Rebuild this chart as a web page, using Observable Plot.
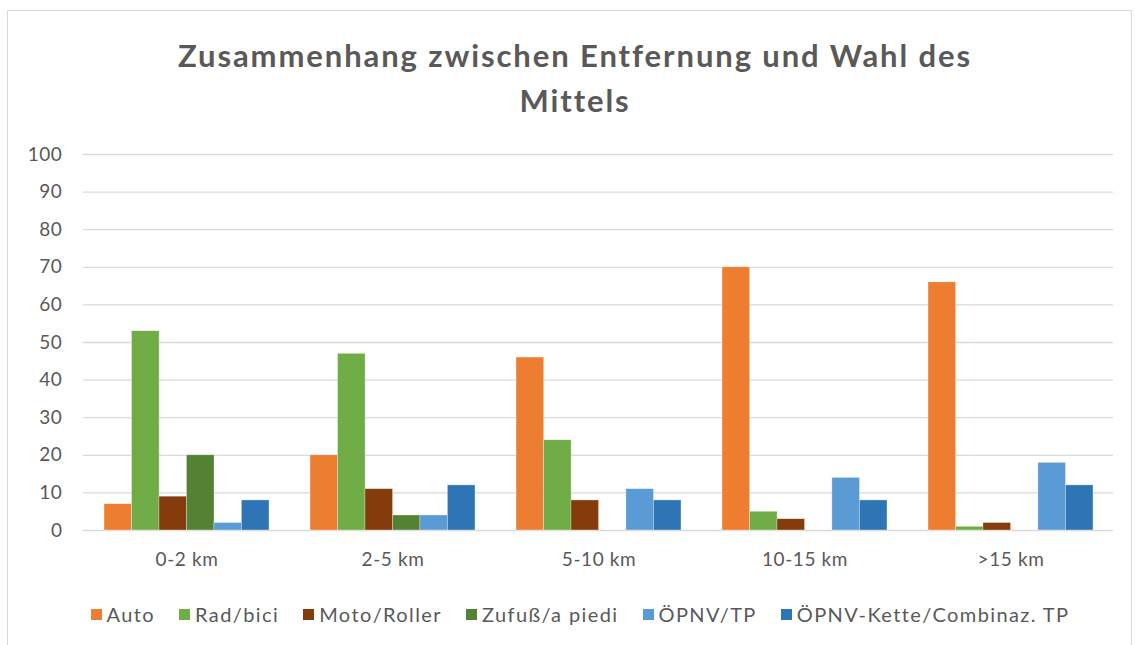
<!DOCTYPE html>
<html>
<head>
<meta charset="utf-8">
<script src="https://cdn.jsdelivr.net/npm/d3@7"></script>
<script src="https://cdn.jsdelivr.net/npm/@observablehq/plot@0.6"></script>
<style>
  html, body { margin: 0; padding: 0; background: #fff; width: 1135px; height: 645px; overflow: hidden; }
  body { position: relative; font-family: Lato, "Open Sans", sans-serif; color: #595959; }
  #frame { position: absolute; left: 7px; top: 10px; width: 1125px; height: 640px; border: 1px solid #d9d9d9; box-sizing: border-box; }
  #title { position: absolute; left: 0; width: 1150px; top: 33px; text-align: center; font-weight: bold; font-size: 31px; letter-spacing: 1.9px; line-height: 45px; color: #595959; }
  #chart { position: absolute; left: 0; top: 130px; }
  #legend { position: absolute; left: 0; width: 1160px; top: 602px; display: flex; justify-content: center; gap: 0 24px; font-size: 20px; letter-spacing: 1.4px; color: #595959; }
  #legend .item { display: flex; align-items: center; }
  #legend .sw { width: 11px; height: 11px; margin-right: 5px; display: inline-block; }
</style>
</head>
<body>
<div id="frame"></div>
<div id="title">Zusammenhang zwischen Entfernung und Wahl des<br>Mittels</div>
<div id="chart"></div>
<div id="legend"></div>
<script>
const categories = ["0-2 km", "2-5 km", "5-10 km", "10-15 km", ">15 km"];
const seriesNames = ["Auto", "Rad/bici", "Moto/Roller", "Zufuß/a piedi", "ÖPNV/TP", "ÖPNV-Kette/Combinaz. TP"];
const seriesColors = ["#ed7d31", "#70ad47", "#843c0c", "#548235", "#5b9bd5", "#2e75b6"];
const auto   = [7, 20, 46, 70, 66];
const rad    = [53, 47, 24, 5, 1];
const moto   = [9, 11, 8, 3, 2];
const zufuss = [20, 4, 0, 0, 0];
const oepnv  = [2, 4, 11, 14, 18];
const kette  = [8, 12, 8, 8, 12];
const yTicks = [0, 10, 20, 30, 40, 50, 60, 70, 80, 90, 100];

const seriesValues = [auto, rad, moto, zufuss, oepnv, kette];
const data = [];
categories.forEach((c, i) => {
  seriesNames.forEach((s, j) => data.push({cat: c, series: s, value: seriesValues[j][i]}));
});

const W = 1135, ML = 83, MR = 22;
const step = (W - ML - MR) / (categories.length - 0.2 + 0.2);
const bw = step * 0.8;
const w = bw / seriesNames.length;

const barMarks = seriesNames.map((s, j) =>
  Plot.barY(data.filter(d => d.series === s), {
    x: "cat", y: "value", fill: "series",
    insetLeft: j * w, insetRight: (seriesNames.length - 1 - j) * w,
    stroke: "white", strokeWidth: 0.6, strokeOpacity: 0.6
  })
);

const plot = Plot.plot({
  width: W,
  height: 440,
  marginTop: 24,
  marginBottom: 40,
  marginLeft: ML,
  marginRight: MR,
  style: {fontFamily: "Lato, 'Open Sans', sans-serif", fontSize: "19px", color: "#595959", background: "transparent", letterSpacing: "0.6px"},
  x: {domain: categories, paddingInner: 0.2, paddingOuter: 0.1, label: null},
  y: {domain: [0, 100], ticks: yTicks, label: null},
  color: {domain: seriesNames, range: seriesColors},
  marks: [
    Plot.gridY(yTicks, {stroke: "#d9d9d9", strokeOpacity: 1, strokeWidth: 1.3}),
    Plot.axisY(yTicks, {tickSize: 0, tickPadding: 21, label: null, fontSize: 19}),
    Plot.axisX({tickSize: 0, tickPadding: 22, label: null, fontSize: 19}),
    ...barMarks
  ]
});
document.getElementById("chart").appendChild(plot);

const legend = document.getElementById("legend");
seriesNames.forEach((s, j) => {
  const it = document.createElement("span");
  it.className = "item";
  const sw = document.createElement("span");
  sw.className = "sw";
  sw.style.background = seriesColors[j];
  it.appendChild(sw);
  it.appendChild(document.createTextNode(s));
  legend.appendChild(it);
});
</script>
</body>
</html>
